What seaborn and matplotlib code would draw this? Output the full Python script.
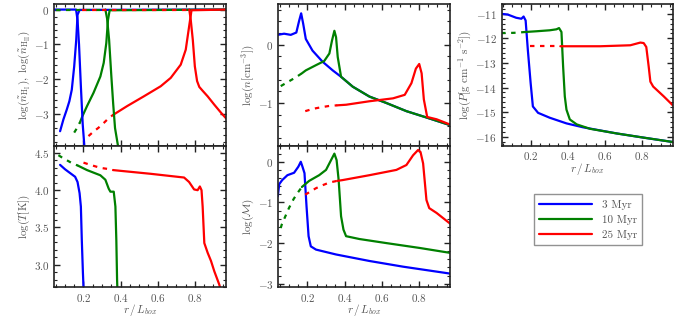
import numpy as np
import matplotlib
matplotlib.use('Agg')
import matplotlib.pyplot as plt
import seaborn as sns
from matplotlib.lines import Line2D
from matplotlib.ticker import AutoMinorLocator, MultipleLocator

# ---- data (r / L_box, log quantity) ----
ages = ['3 Myr', '10 Myr', '25 Myr']
colors = ['blue', 'green', 'red']
sparse_to = [0.0, 0.17, 0.36]   # inner part of each run is sparsely sampled

# log(n_HI): rising curves
r_hi_3 = [0.074, 0.092, 0.110, 0.124, 0.137, 0.150, 0.161, 0.168, 0.179, 0.968]
hi_3 = [-3.49, -3.15, -2.87, -2.63, -2.30, -1.63, -0.87, -0.15, -0.01, 0.0]
r_hi_10 = [0.150, 0.165, 0.180, 0.195, 0.219, 0.254, 0.291, 0.309, 0.323, 0.332, 0.341, 0.968]
hi_10 = [-3.53, -3.40, -3.25, -3.05, -2.77, -2.39, -1.92, -1.53, -0.96, -0.30, -0.02, 0.0]
r_hi_25 = [0.227, 0.250, 0.281, 0.310, 0.335, 0.360, 0.435, 0.525, 0.616, 0.670, 0.724, 0.751, 0.769, 0.782, 0.968]
hi_25 = [-3.63, -3.52, -3.39, -3.25, -3.12, -3.02, -2.77, -2.49, -2.20, -1.96, -1.58, -1.15, -0.49, -0.02, 0.0]

# log(n_HII): falling curves
r_hii_3 = [0.043, 0.160, 0.168, 0.176, 0.186, 0.196, 0.206]
hii_3 = [0.0, 0.0, -0.30, -1.00, -2.20, -3.30, -4.00]
r_hii_10 = [0.050, 0.318, 0.327, 0.338, 0.350, 0.360, 0.370, 0.385, 0.392]
hii_10 = [0.0, 0.0, -0.25, -0.86, -1.90, -2.70, -3.40, -3.88, -4.00]
r_hii_25 = [0.190, 0.770, 0.778, 0.789, 0.800, 0.812, 0.824, 0.842, 0.869, 0.905, 0.941, 0.968]
hii_25 = [0.0, 0.0, -0.30, -0.87, -1.63, -2.05, -2.22, -2.33, -2.49, -2.73, -2.96, -3.12]

# log(T[K])
r_t_3 = [0.074, 0.101, 0.128, 0.155, 0.168, 0.179, 0.186, 0.191, 0.197, 0.201]
t_3 = [4.34, 4.28, 4.23, 4.18, 4.11, 3.96, 3.78, 3.33, 2.89, 2.65]
r_t_10 = [0.065, 0.090, 0.119, 0.140, 0.170, 0.219, 0.291, 0.318, 0.336, 0.345, 0.363, 0.372, 0.377, 0.381, 0.383]
t_10 = [4.47, 4.43, 4.39, 4.36, 4.33, 4.27, 4.20, 4.14, 4.02, 3.98, 3.98, 3.78, 3.33, 2.80, 2.65]
r_t_25 = [0.200, 0.237, 0.291, 0.345, 0.360, 0.399, 0.562, 0.742, 0.769, 0.796, 0.815, 0.827, 0.836, 0.842,
          0.851, 0.869, 0.887, 0.905, 0.932, 0.940]
t_25 = [4.37, 4.34, 4.30, 4.28, 4.27, 4.26, 4.22, 4.17, 4.11, 4.01, 4.00, 4.05, 4.00, 3.78,
        3.29, 3.16, 3.05, 2.91, 2.73, 2.65]

# log(n[cm^-3])
r_n_3 = [0.040, 0.074, 0.110, 0.140, 0.155, 0.166, 0.177, 0.191, 0.227, 0.281, 0.336, 0.381,
         0.444, 0.534, 0.625, 0.733, 0.842, 0.968]
n_3 = [0.17, 0.19, 0.17, 0.21, 0.41, 0.54, 0.36, 0.10, -0.10, -0.29, -0.44, -0.55,
       -0.72, -0.89, -1.00, -1.14, -1.25, -1.38]
r_n_10 = [0.056, 0.083, 0.110, 0.137, 0.170, 0.191, 0.246, 0.290, 0.318, 0.332, 0.345, 0.354, 0.363,
          0.381, 0.444, 0.534, 0.625, 0.733, 0.842, 0.968]
n_10 = [-0.71, -0.66, -0.61, -0.56, -0.49, -0.44, -0.35, -0.28, -0.15, 0.07, 0.24, 0.13, -0.21,
        -0.55, -0.72, -0.89, -1.00, -1.14, -1.25, -1.38]
r_n_25 = [0.188, 0.220, 0.246, 0.280, 0.318, 0.360, 0.408, 0.534, 0.661, 0.724, 0.760, 0.784, 0.802,
          0.815, 0.827, 0.845, 0.896, 0.968]
n_25 = [-1.14, -1.11, -1.09, -1.07, -1.05, -1.04, -1.03, -0.97, -0.92, -0.86, -0.66, -0.41, -0.33,
        -0.49, -0.94, -1.24, -1.28, -1.37]

# log(Mach)
r_m_3 = [0.040, 0.048, 0.064, 0.092, 0.128, 0.151, 0.164, 0.173, 0.184, 0.195, 0.206, 0.218, 0.246,
         0.354, 0.534, 0.715, 0.968]
m_3 = [-0.85, -0.55, -0.45, -0.33, -0.27, -0.12, 0.0, -0.12, -0.28, -1.10, -1.83, -2.08, -2.16,
       -2.28, -2.44, -2.58, -2.75]
r_m_10 = [0.056, 0.061, 0.080, 0.100, 0.125, 0.146, 0.170, 0.209, 0.263, 0.300, 0.327, 0.345, 0.357,
          0.368, 0.381, 0.394, 0.408, 0.480, 0.625, 0.805, 0.968]
m_10 = [-1.63, -1.55, -1.35, -1.14, -0.92, -0.77, -0.62, -0.47, -0.33, -0.20, 0.04, 0.20, 0.04,
        -0.45, -1.34, -1.67, -1.83, -1.90, -2.00, -2.12, -2.24]
r_m_25 = [0.188, 0.220, 0.246, 0.280, 0.318, 0.360, 0.390, 0.534, 0.679, 0.733, 0.769, 0.796, 0.809,
          0.823, 0.841, 0.856, 0.896, 0.968]
m_25 = [-0.81, -0.72, -0.65, -0.58, -0.51, -0.47, -0.45, -0.33, -0.20, -0.08, 0.16, 0.29, 0.24,
        -0.04, -0.94, -1.14, -1.26, -1.52]

# log(P[g cm^-1 s^-2])
r_p_3 = [0.041, 0.077, 0.122, 0.150, 0.162, 0.173, 0.185, 0.200, 0.212, 0.240, 0.303, 0.393, 0.483,
         0.664, 0.809, 0.968]
p_3 = [-11.00, -11.03, -11.16, -11.20, -11.11, -11.27, -12.48, -13.82, -14.77, -15.03, -15.23,
       -15.46, -15.62, -15.87, -16.04, -16.22]
r_p_10 = [0.041, 0.080, 0.122, 0.170, 0.231, 0.303, 0.339, 0.353, 0.366, 0.375, 0.384, 0.393, 0.411,
          0.448, 0.520, 0.664, 0.809, 0.968]
p_10 = [-11.78, -11.78, -11.77, -11.74, -11.71, -11.67, -11.63, -11.58, -11.74, -13.15, -14.36,
        -14.90, -15.30, -15.50, -15.68, -15.87, -16.04, -16.22]
r_p_25 = [0.195, 0.250, 0.303, 0.360, 0.574, 0.737, 0.791, 0.809, 0.823, 0.836, 0.845, 0.860, 0.917,
          0.968]
p_25 = [-12.32, -12.32, -12.32, -12.32, -12.32, -12.28, -12.17, -12.19, -12.35, -13.15, -13.76,
        -13.96, -14.36, -14.74]

# ---- style ----
sns.set_style('ticks')
plt.rcParams.update({
    'font.family': 'serif',
    'font.serif': ['cmr10', 'DejaVu Serif'],
    'mathtext.fontset': 'cm',
    'axes.formatter.use_mathtext': True,
    'font.size': 8,
    'axes.linewidth': 1.2,
    'axes.edgecolor': '#222222',
    'axes.labelcolor': '#555555',
    'xtick.color': '#222222',
    'ytick.color': '#222222',
    'xtick.labelcolor': '#555555',
    'ytick.labelcolor': '#555555',
})

fig = plt.figure(figsize=(6.8, 3.2), dpi=100)
w, h = 0.2525, 0.4422
ax_hi = fig.add_axes([0.0799, 0.5453, w, h])
ax_t = fig.add_axes([0.0799, 0.1031, w, h])
ax_n = fig.add_axes([0.4093, 0.5453, w, h])
ax_m = fig.add_axes([0.4093, 0.1031, w, h])
ax_p = fig.add_axes([0.7375, 0.5453, w, h])


def draw(ax, r, v, i):
    r = np.asarray(r)
    v = np.asarray(v)
    k = int(np.searchsorted(r, sparse_to[i]))
    if k > 0:
        sns.lineplot(x=r[:k + 1], y=v[:k + 1], ax=ax, color=colors[i], lw=1.6,
                     linestyle=(0, (2.0, 2.5)), estimator=None, sort=False)
    sns.lineplot(x=r[k:], y=v[k:], ax=ax, color=colors[i], lw=1.6,
                 estimator=None, sort=False)


for i, (r, v) in enumerate([(r_hi_3, hi_3), (r_hi_10, hi_10), (r_hi_25, hi_25)]):
    draw(ax_hi, r, v, i)
for i, (r, v) in enumerate([(r_hii_3, hii_3), (r_hii_10, hii_10), (r_hii_25, hii_25)]):
    draw(ax_hi, r, v, i)
for i, (r, v) in enumerate([(r_t_3, t_3), (r_t_10, t_10), (r_t_25, t_25)]):
    draw(ax_t, r, v, i)
for i, (r, v) in enumerate([(r_n_3, n_3), (r_n_10, n_10), (r_n_25, n_25)]):
    draw(ax_n, r, v, i)
for i, (r, v) in enumerate([(r_m_3, m_3), (r_m_10, m_10), (r_m_25, m_25)]):
    draw(ax_m, r, v, i)
for i, (r, v) in enumerate([(r_p_3, p_3), (r_p_10, p_10), (r_p_25, p_25)]):
    draw(ax_p, r, v, i)

ax_hi.set_ylim(-3.9, 0.16)
ax_t.set_ylim(2.7, 4.6)
ax_n.set_ylim(-1.73, 0.7)
ax_m.set_ylim(-3.08, 0.4)
ax_p.set_ylim(-16.36, -10.6)

ax_hi.set_ylabel(r'$\log(\tilde{n}_{\rm H_I}),\ \log(\tilde{n}_{\rm H_{II}})$', labelpad=1)
ax_t.set_ylabel(r'$\log(T[\rm K])$', labelpad=1)
ax_n.set_ylabel(r'$\log(n[\rm cm^{-3}])$', labelpad=1)
ax_m.set_ylabel(r'$\log(\mathcal{M})$', labelpad=1)
ax_p.set_ylabel(r'$\log(P[\rm g\ cm^{-1}\ s^{-2}])$', labelpad=1)

for ax in [ax_hi, ax_t, ax_n, ax_m, ax_p]:
    ax.set_xlim(0.043, 0.968)
    ax.xaxis.set_major_locator(MultipleLocator(0.2))
    ax.xaxis.set_minor_locator(AutoMinorLocator())
    ax.yaxis.set_minor_locator(AutoMinorLocator())
    ax.tick_params(which='both', direction='in', top=True, right=True)
    ax.tick_params(which='major', length=4, width=1.0)
    ax.tick_params(which='minor', length=2, width=0.8)
    ax.set_xlabel('')
    for s in ax.spines.values():
        s.set_visible(True)
ax_t.yaxis.set_major_locator(MultipleLocator(0.5))
for ax in [ax_hi, ax_n, ax_m, ax_p]:
    ax.yaxis.set_major_locator(MultipleLocator(1))
for ax in [ax_hi, ax_n]:
    ax.tick_params(labelbottom=False)
for ax in [ax_t, ax_m, ax_p]:
    ax.set_xlabel(r'$r\,/\,L_{box}$', labelpad=-1)

handles = [Line2D([], [], color=c, lw=1.6) for c in colors]
leg = fig.legend(handles, ages, loc='upper left', bbox_to_anchor=(0.777, 0.41),
                 frameon=True, fancybox=False, handlelength=4.7, handletextpad=0.9,
                 borderpad=0.5, labelspacing=0.45, fontsize=8)
leg.get_frame().set_edgecolor('#777777')
leg.get_frame().set_linewidth(1.0)
for t in leg.get_texts():
    t.set_color('#555555')

fig.savefig('out.png', dpi=100)
